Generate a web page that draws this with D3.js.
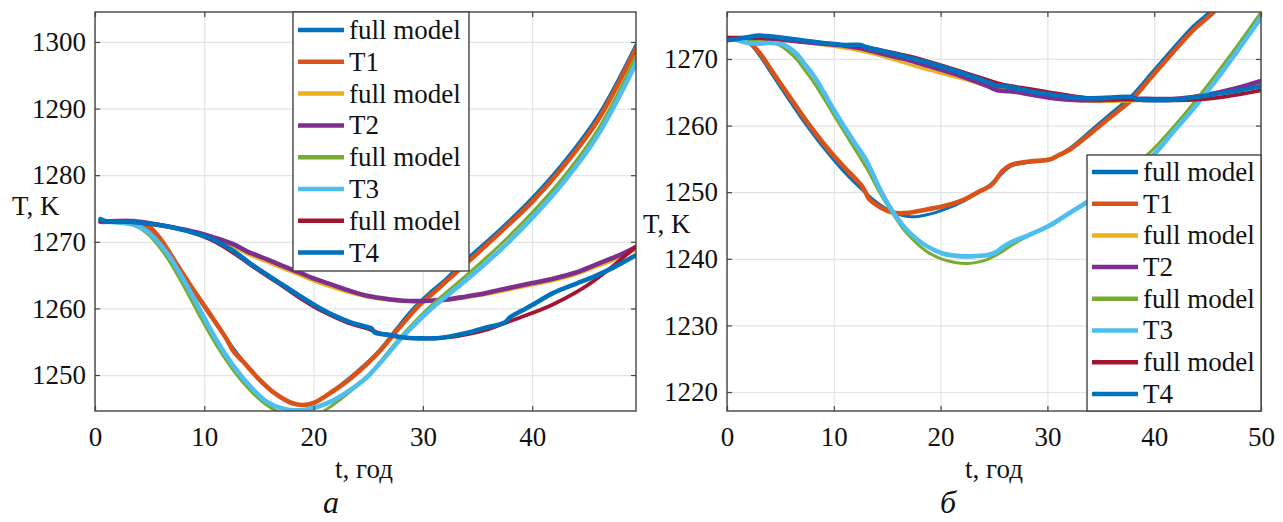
<!DOCTYPE html>
<html><head><meta charset="utf-8">
<script src="https://cdn.jsdelivr.net/npm/d3@7"></script>
<style>
body{margin:0;background:#fff}
</style>
</head><body>
<svg id="c" width="1283" height="522" font-family="Liberation Serif"></svg>
<script>
// ---------- data: panel "а" ----------
const aFull1 = [[0.5,1273.3],[1,1273],[3,1273],[4,1272.6],[5,1271.6],[6,1269.6],[7.5,1266.2],[9,1262.6],[10.5,1259],[12,1255.5],[13.5,1252.2],[15,1249.3],[16.5,1247.1],[18,1245.8],[19,1245.5],[20,1245.8],[21.5,1247.3],[23,1249.2],[24.5,1251.3],[26,1253.7],[27.5,1256.8],[29,1259.8],[30.5,1262.2],[32,1264.3],[34,1267.4],[37,1271.8],[40,1276.6],[43,1282.2],[46,1288.9],[49.5,1299.6]];
const aT1 = [[0.5,1273],[1,1273],[3,1273.1],[4,1272.8],[5,1272.2],[6,1270.4],[7.5,1266.6],[9,1262.8],[10.5,1259.2],[12,1255.5],[12.7,1253.5],[13.5,1252.1],[15,1249.4],[16.5,1247.2],[18,1245.8],[19,1245.5],[20,1245.8],[21.8,1247.6],[23,1249],[24.9,1251.7],[26,1253.5],[27.9,1257.2],[29.5,1260.2],[31,1262.4],[34,1266.8],[37,1271.3],[40,1276],[43,1281.6],[46,1288.2],[49.5,1299]];
const aFull2 = [[0.5,1273],[2,1273.1],[3.5,1273.1],[6,1272.4],[8,1271.8],[9.6,1271.1],[11,1270.3],[12.7,1269.2],[14,1268.1],[15.7,1267],[17,1266.1],[18.7,1265],[20,1264.1],[21.8,1263.1],[23.4,1262.3],[24.9,1261.7],[26.4,1261.3],[27.9,1261.1],[29.5,1261],[31,1261.1],[32.5,1261.3],[34,1261.6],[35.5,1262],[37.1,1262.5],[38.5,1263],[40,1263.5],[42,1264.2],[44,1265.1],[46,1266.3],[48,1267.6],[49.5,1268.8]];
const aT2 = [[0.5,1273],[2,1273.1],[3.5,1273.1],[6,1272.5],[8,1271.9],[9.6,1271.3],[11,1270.6],[12.7,1269.6],[14,1268.5],[15.7,1267.4],[17,1266.5],[18.7,1265.4],[20,1264.5],[21.8,1263.5],[23.4,1262.6],[24.9,1261.9],[26.4,1261.5],[27.9,1261.2],[29.5,1261.1],[31,1261.2],[32.5,1261.4],[34,1261.8],[35.5,1262.2],[37.1,1262.8],[38.5,1263.3],[40,1263.8],[42,1264.5],[44,1265.4],[46,1266.7],[48,1268],[49.5,1269.2]];
const aFull3 = [[0.5,1273],[2,1272.9],[3.5,1272.5],[4.5,1271.6],[5,1270.9],[6.6,1267.6],[8.1,1263.4],[9.6,1258.8],[11.1,1254.5],[12.7,1250.6],[14.2,1247.7],[15.7,1245.5],[17.3,1244.1],[18.7,1243.6],[20.3,1244],[21.5,1245.2],[23.4,1247.6],[24.9,1249.8],[26.4,1252.6],[27.9,1255.6],[29.5,1258.4],[31,1260.8],[34,1265],[37.1,1269.6],[40,1274.4],[43,1280],[46,1286.8],[49.5,1297.8]];
const aT3 = [[0.5,1273],[2,1272.9],[3.5,1272.6],[4.5,1271.9],[5,1271.3],[6.6,1268.3],[8.1,1264.3],[9.6,1259.8],[11.1,1255.3],[12.7,1251.3],[14.2,1248.3],[15.7,1246],[17.3,1244.9],[18.7,1244.7],[20.3,1245.2],[21.8,1246.2],[23.4,1247.8],[24.9,1249.7],[26.4,1252.4],[27.9,1255.3],[29.5,1258],[31,1260.3],[34,1264.3],[37.1,1268.8],[40,1273.6],[43,1279.2],[46,1286],[49.5,1296.8]];
const aFull4 = [[0.5,1273],[1,1273],[3,1273],[5,1272.7],[7,1272.2],[9.6,1271],[11,1270],[12.7,1268.3],[14,1266.8],[15.7,1264.9],[17.3,1263.2],[18.7,1261.6],[20.3,1260],[21.8,1258.8],[23.4,1257.7],[24.9,1257],[26,1256.3],[28,1255.7],[30,1255.5],[32.5,1255.7],[34,1256.1],[36,1256.9],[38,1258.1],[40,1259.3],[41.9,1260.6],[44,1262.4],[45.7,1264.2],[47.5,1266.5],[49.5,1269.3]];
const aT4 = [[0.5,1273.4],[1,1273.1],[3,1273],[5,1272.7],[7,1272.2],[9.6,1271.1],[11,1270.2],[12.7,1268.6],[14,1267],[15.7,1265.1],[17.3,1263.4],[18.7,1261.9],[20.3,1260.3],[21.8,1259],[23.4,1257.9],[24.9,1257.2],[25.3,1257],[25.6,1256.4],[27,1256],[28.5,1255.6],[30,1255.5],[31,1255.5],[32.5,1255.8],[34,1256.3],[35.5,1257],[37.5,1257.9],[38,1258.7],[39,1259.6],[40,1260.5],[41.9,1262.3],[44,1263.7],[45.7,1264.8],[47.5,1266.2],[49.5,1268]];

// ---------- data: panel "б" ----------
const bFull1 = [[0,1273],[1,1273],[2,1272.5],[3,1270.6],[4.5,1267],[6,1263.4],[7.2,1260.6],[8.5,1257.8],[9.5,1255.8],[11,1253],[12.5,1250.6],[14,1248.5],[15.5,1247],[17.2,1246.3],[18.7,1246.6],[20.5,1247.5],[22.2,1248.7],[23.5,1249.9],[24.7,1251.2],[25.5,1252.4],[26.6,1253.9],[28.3,1254.5],[30.2,1254.9],[32.1,1256.6],[34.1,1259.3],[36,1261.9],[37.9,1264.5],[39.8,1268],[41.7,1271.5],[43.7,1275],[45.2,1277.1],[47.5,1281.2],[50,1286]];
const bT1 = [[0,1273],[1,1273],[2,1272.6],[3,1271],[4.5,1267.5],[6,1264],[7.2,1261.2],[8.5,1258.4],[9.5,1256.4],[11,1253.7],[11.8,1252.4],[12.6,1251],[13,1249.9],[13.3,1249],[14.5,1247.6],[15.6,1246.9],[17,1246.9],[18.7,1247.4],[20.5,1248],[22.2,1248.9],[23.5,1250],[24.7,1251],[25.2,1251.9],[25.8,1253.2],[26.6,1254.1],[28.3,1254.6],[30.2,1254.9],[31,1255.5],[32.1,1256.4],[34.1,1258.9],[36,1261.4],[37.9,1263.9],[39.8,1267.4],[41.7,1270.9],[43.7,1274.4],[45.6,1277.1],[47.5,1280.6],[50,1285.5]];
const bFull2 = [[0,1273],[3,1273],[6,1272.7],[9,1272.1],[12.5,1271.2],[14.5,1270.4],[16.8,1269.3],[18.7,1268.4],[20.6,1267.6],[22.5,1266.8],[24.3,1265.9],[26,1265.4],[28.3,1264.8],[30.2,1264.2],[32.1,1263.8],[34,1263.6],[36,1263.6],[38,1263.7],[40,1263.8],[42,1264],[44,1264.5],[46,1265.1],[48,1265.8],[50,1266.4]];
const bT2 = [[0,1273],[1,1273],[3,1273.1],[5,1272.9],[7,1272.6],[9,1272.3],[11,1272],[12.5,1271.6],[14.5,1270.8],[16.8,1269.9],[18.7,1269],[20.6,1268.1],[22.5,1267.1],[24.3,1266],[25,1265.5],[25.3,1265.3],[26,1265.2],[27.3,1265],[28.3,1264.7],[30.2,1264.2],[32.1,1263.9],[34,1263.8],[36,1263.9],[38,1264],[40,1264],[41.7,1264],[43.7,1264.3],[45.6,1264.8],[47.7,1265.6],[50,1266.7]];
const bFull3 = [[0,1273],[1,1272.9],[2,1272.7],[3,1272.6],[4,1272.5],[5,1272],[5.7,1271.2],[6.5,1270],[7.2,1268.5],[8.2,1266.3],[9.1,1264],[10,1261.6],[11,1259],[12,1256.4],[13,1253.8],[14.5,1249.4],[15.6,1246.6],[16.8,1243.9],[18.7,1241.1],[20.2,1239.9],[21.5,1239.4],[22.5,1239.3],[23.5,1239.5],[24.5,1240],[25.6,1240.9],[26.5,1241.9],[28.3,1243.5],[30.2,1244.9],[32,1246.8],[34.1,1249],[36,1251.3],[37.9,1253.7],[39.8,1256.3],[41.7,1259.6],[43.7,1263.4],[45.6,1267.3],[47.7,1271.8],[50,1277]];
const bT3 = [[0,1273.2],[1,1272.8],[2,1272.4],[3,1272.3],[4,1272.4],[5,1272.3],[5.7,1271.8],[6.5,1270.8],[7.2,1269.4],[8.2,1267.3],[9.1,1264.9],[10,1262.4],[11,1259.8],[12,1257.3],[13,1254.9],[14.5,1249.9],[15.6,1246.9],[16.8,1244.4],[18.7,1241.9],[20.2,1240.8],[21.8,1240.4],[23.2,1240.4],[24.5,1240.6],[25.3,1241.1],[25.6,1241.5],[26.5,1242.4],[28.3,1243.6],[30.2,1245],[32,1246.8],[34.1,1248.9],[36,1251],[37.9,1253.2],[39.8,1255.4],[41.7,1258.9],[43.7,1262.6],[45.6,1266.4],[47.7,1271],[50,1276.2]];
const bFull4 = [[0,1273.2],[2,1273.2],[4,1273.1],[6,1272.9],[8,1272.6],[10,1272.2],[12.5,1271.9],[14.5,1271.3],[16.8,1270.5],[18.7,1269.7],[20.6,1268.8],[22.5,1267.8],[24.3,1266.9],[26,1266.1],[28.3,1265.5],[30.2,1265],[32.1,1264.5],[34,1264.1],[36,1264],[38,1263.9],[40,1263.8],[42,1263.8],[44,1263.9],[46,1264.2],[48,1264.7],[50,1265.3]];
const bT4 = [[0,1272.8],[1,1273],[2,1273.3],[3,1273.5],[4,1273.4],[5,1273.2],[7,1272.8],[9,1272.4],[11,1272.1],[12.5,1272.1],[13,1271.8],[14.5,1271.2],[16.8,1270.3],[18.7,1269.5],[20.6,1268.6],[22.5,1267.6],[24.3,1266.6],[25.2,1266],[25.5,1266],[26.5,1265.8],[28.3,1265.2],[30.2,1264.7],[32.1,1264.3],[34,1264.1],[36,1264.2],[37.9,1264.3],[38.5,1263.9],[40,1263.8],[42,1263.9],[44,1264.3],[46,1264.8],[48,1265.3],[50,1265.9]];

// ---------- labels & ticks ----------
const seriesNames = ["full model","T1","full model","T2","full model","T3","full model","T4"];
const seriesColors = ["#0072BD","#D95319","#EDB120","#7E2F8E","#77AC30","#4DBEEE","#A2142F","#0072BD"];
const aXTicks = [0,10,20,30,40];
const aYTicks = [1250,1260,1270,1280,1290,1300];
const bXTicks = [0,10,20,30,40,50];
const bYTicks = [1220,1230,1240,1250,1260,1270];
const xTitle = "t, год";
const yTitle = "T, K";

const FONT = "Liberation Serif";
const svg = d3.select("#c");
const lineWidths = [3,4.6,3,4.6,3,4.6,3.8,4.6];

function txt(sel){ return sel.attr("font-family",FONT).attr("fill","#111"); }

function drawPanel(o){
  const g = svg.append("g").attr("font-family",FONT);
  const x = d3.scaleLinear().domain(o.xDom).range([o.left,o.right]);
  const y = d3.scaleLinear().domain(o.yDom).range([o.bottom,o.top]);
  const W = o.right-o.left, H = o.bottom-o.top;
  // grid
  g.append("g").attr("transform",`translate(0,${o.bottom})`)
    .call(d3.axisBottom(x).tickValues(o.xTicks).tickSize(-H).tickFormat(""))
    .call(s=>{s.select(".domain").remove();s.selectAll("line").attr("stroke","#e3e3e3").attr("stroke-width",1.2);});
  g.append("g").attr("transform",`translate(${o.left},0)`)
    .call(d3.axisLeft(y).tickValues(o.yTicks).tickSize(-W).tickFormat(""))
    .call(s=>{s.select(".domain").remove();s.selectAll("line").attr("stroke","#e3e3e3").attr("stroke-width",1.2);});
  // lines
  const cid = "clip"+o.id;
  svg.append("defs").append("clipPath").attr("id",cid).append("rect")
    .attr("x",o.left).attr("y",o.top).attr("width",W).attr("height",H);
  const line = d3.line().x(d=>x(d[0])).y(d=>y(d[1])).curve(d3.curveCatmullRom.alpha(0.5));
  const lg = g.append("g").attr("clip-path",`url(#${cid})`);
  o.series.forEach((s,i)=>{
    lg.append("path").attr("d",line(s)).attr("fill","none")
      .attr("stroke",seriesColors[i]).attr("stroke-width",lineWidths[i])
      .attr("stroke-linejoin","round").attr("stroke-linecap","round");
  });
  // inward ticks on all four sides
  const tk = s=>{s.select(".domain").remove();s.selectAll("line").attr("stroke","#444").attr("stroke-width",1.2);};
  g.append("g").attr("transform",`translate(0,${o.bottom})`).call(d3.axisBottom(x).tickValues(o.xTicks).tickSize(-5).tickFormat("")).call(tk);
  g.append("g").attr("transform",`translate(0,${o.top})`).call(d3.axisTop(x).tickValues(o.xTicks).tickSize(-5).tickFormat("")).call(tk);
  g.append("g").attr("transform",`translate(${o.left},0)`).call(d3.axisLeft(y).tickValues(o.yTicks).tickSize(-5).tickFormat("")).call(tk);
  g.append("g").attr("transform",`translate(${o.right},0)`).call(d3.axisRight(y).tickValues(o.yTicks).tickSize(-5).tickFormat("")).call(tk);
  // box
  g.append("rect").attr("x",o.left).attr("y",o.top).attr("width",W).attr("height",H)
    .attr("fill","none").attr("stroke","#444").attr("stroke-width",1.4);
  // tick labels
  g.append("g").attr("transform",`translate(0,${o.bottom})`)
    .call(d3.axisBottom(x).tickValues(o.xTicks).tickSize(0).tickPadding(16).tickFormat(d3.format("d")))
    .call(s=>{s.attr("font-family",FONT).attr("font-size",27);s.select(".domain").remove();txt(s.selectAll("text")).attr("font-size",27);});
  g.append("g").attr("transform",`translate(${o.left},0)`)
    .call(d3.axisLeft(y).tickValues(o.yTicks).tickSize(0).tickPadding(9).tickFormat(d3.format("d")))
    .call(s=>{s.attr("font-family",FONT).attr("font-size",27);s.select(".domain").remove();txt(s.selectAll("text")).attr("font-size",27);});
  // titles
  txt(g.append("text")).attr("x",o.xtX).attr("y",478).attr("text-anchor","middle").attr("font-size",27).text(xTitle);
  txt(g.append("text")).attr("x",o.ytX).attr("y",o.ytY).attr("font-size",27).text(yTitle);
  txt(g.append("text")).attr("x",o.subX).attr("y",513).attr("text-anchor","middle").attr("font-size",32).attr("font-style","italic").text(o.sub);
  // legend
  const L = o.legend;
  const lgd = g.append("g");
  lgd.append("rect").attr("x",L.x0).attr("y",L.y0).attr("width",L.x1-L.x0).attr("height",L.y1-L.y0)
    .attr("fill","#fff").attr("stroke","#444").attr("stroke-width",1.4);
  seriesNames.forEach((n,i)=>{
    const cy = L.first + i*L.step;
    lgd.append("line").attr("x1",L.x0+5).attr("x2",L.x0+51).attr("y1",cy).attr("y2",cy)
      .attr("stroke",seriesColors[i]).attr("stroke-width",4.5);
    txt(lgd.append("text")).attr("x",L.x0+56).attr("y",cy).attr("dy","0.33em").attr("font-size",27).text(n);
  });
}

drawPanel({id:"a",left:95,right:636,top:12,bottom:411,xDom:[0,49.5],yDom:[1244.6,1304.5],
  xTicks:aXTicks,yTicks:aYTicks,series:[aFull1,aT1,aFull2,aT2,aFull3,aT3,aFull4,aT4],
  xtX:364,ytX:12,ytY:215,subX:331,sub:"а",
  legend:{x0:293,x1:469,y0:12,y1:271,first:30,step:31.8}});
drawPanel({id:"b",left:727,right:1261,top:12,bottom:411,xDom:[0,50],yDom:[1217.15,1277.05],
  xTicks:bXTicks,yTicks:bYTicks,series:[bFull1,bT1,bFull2,bT2,bFull3,bT3,bFull4,bT4],
  xtX:994,ytX:643,ytY:233,subX:948,sub:"б",
  legend:{x0:1087,x1:1261,y0:155,y1:411,first:172,step:31.7}});
</script>
</body></html>
